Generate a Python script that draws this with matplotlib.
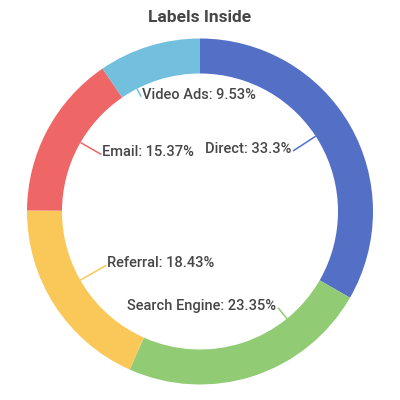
import numpy as np
import matplotlib.pyplot as plt

# data
sources = ['Direct', 'Search Engine', 'Referral', 'Email', 'Video Ads']
shares = [33.3, 23.35, 18.43, 15.37, 9.53]
colors = ['#5470c6', '#91cc75', '#fac858', '#ee6666', '#73c0de']

# label layout (angle nudge in degrees, line end radius, text side)
angle_nudge = [3, 21, -3, -2, 10]
line_end_r = [111, 124, 108, 114, 129]
text_align = ['right', 'right', 'left', 'left', 'left']

plt.rcParams['font.family'] = ['Roboto', 'DejaVu Sans']

fig = plt.figure(figsize=(4, 4), dpi=100)
ax = fig.add_axes([0, 0, 1, 1])
ax.axis('off')

cx, cy = 200, 400 - 211.5
R_out, R_in = 173, 138

wedges, _ = ax.pie(shares, colors=colors, startangle=90, counterclock=False,
                   radius=R_out, center=(cx, cy),
                   wedgeprops=dict(width=R_out - R_in, linewidth=0))
ax.set_xlim(0, 400)
ax.set_ylim(0, 400)
ax.set_aspect('equal')

total = sum(shares)
start = 90.0
for i, (name, val) in enumerate(zip(sources, shares)):
    span = val / total * 360
    mid = start - span / 2 + angle_nudge[i]
    start -= span
    a = np.deg2rad(mid)
    x0, y0 = cx + R_in * np.cos(a), cy + R_in * np.sin(a)
    x1, y1 = cx + line_end_r[i] * np.cos(a), cy + line_end_r[i] * np.sin(a)
    ax.plot([x0, x1], [y0, y1], color=colors[i], lw=1.1, solid_capstyle='butt')
    dx = -2 if text_align[i] == 'right' else 1
    ax.text(x1 + dx, y1 + 2, f'{name}: {val}%', ha=text_align[i], va='center',
            fontsize=10.5, fontweight='medium', color='#464646')

fig.text(0.5, 1 - 18 / 400, 'Labels Inside', ha='center', va='center',
         fontsize=12.5, fontweight='semibold', color='#464646')

fig.savefig('out.png', dpi=100)
